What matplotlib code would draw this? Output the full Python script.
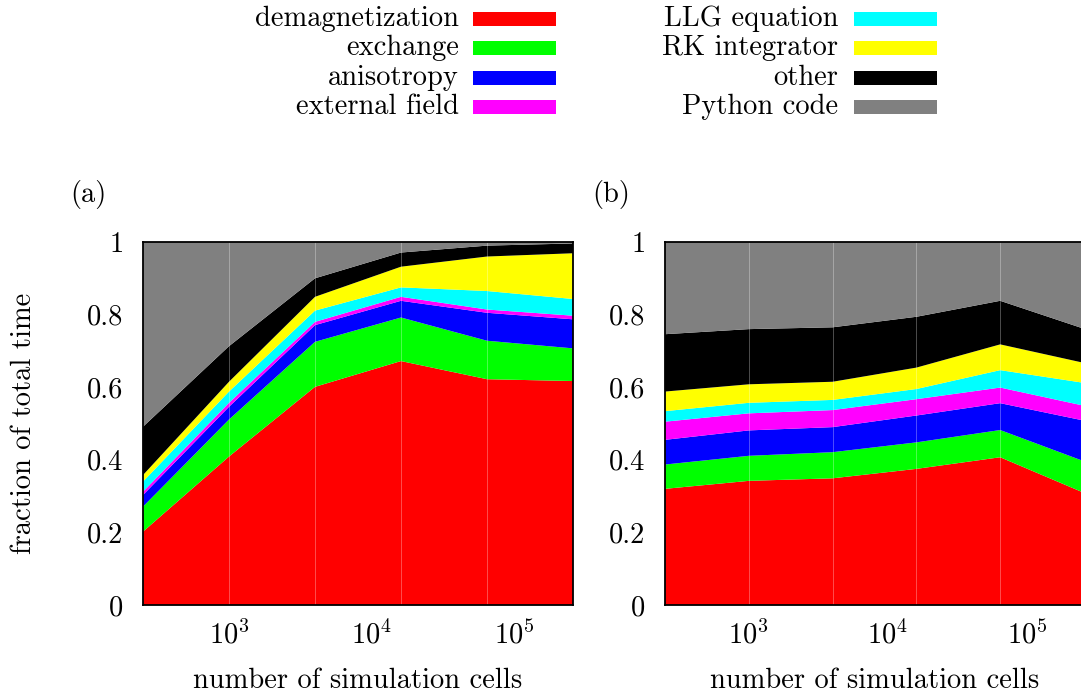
import numpy as np
import matplotlib
matplotlib.use("Agg")
import matplotlib.pyplot as plt
from matplotlib.patches import Rectangle

plt.rcParams["font.family"] = "serif"
plt.rcParams["font.serif"] = ["cmr10", "DejaVu Serif"]
plt.rcParams["mathtext.fontset"] = "cm"
plt.rcParams["axes.formatter.use_mathtext"] = True

FS = 20.5

# number of simulation cells (factor 4 steps)
cells = [250, 1000, 4000, 16000, 64000, 256000]

parts = ["demagnetization", "exchange", "anisotropy", "external field",
         "LLG equation", "RK integrator", "other", "Python code"]
colors = ["#ff0000", "#00ff00", "#0000ff", "#ff00ff",
          "#00ffff", "#ffff00", "#000000", "#808080"]

# fraction of total time per part, panel (a)
a_demag    = [0.202, 0.409, 0.601, 0.672, 0.622, 0.617]
a_exchange = [0.069, 0.102, 0.124, 0.120, 0.106, 0.090]
a_aniso    = [0.032, 0.035, 0.046, 0.046, 0.077, 0.080]
a_zeeman   = [0.009, 0.011, 0.009, 0.011, 0.009, 0.010]
a_llg      = [0.028, 0.031, 0.031, 0.026, 0.051, 0.046]
a_rk       = [0.018, 0.027, 0.038, 0.057, 0.095, 0.126]
a_other    = [0.133, 0.098, 0.051, 0.039, 0.030, 0.027]
a_python   = [0.509, 0.287, 0.100, 0.029, 0.010, 0.004]

# fraction of total time per part, panel (b)
b_demag    = [0.320, 0.342, 0.349, 0.375, 0.407, 0.309]
b_exchange = [0.067, 0.069, 0.072, 0.073, 0.075, 0.087]
b_aniso    = [0.068, 0.070, 0.069, 0.074, 0.074, 0.112]
b_zeeman   = [0.050, 0.047, 0.047, 0.045, 0.043, 0.041]
b_llg      = [0.029, 0.029, 0.028, 0.028, 0.048, 0.063]
b_rk       = [0.054, 0.051, 0.050, 0.059, 0.071, 0.055]
b_other    = [0.158, 0.152, 0.150, 0.140, 0.120, 0.094]
b_python   = [0.254, 0.240, 0.235, 0.206, 0.162, 0.239]

panel_a = [a_demag, a_exchange, a_aniso, a_zeeman, a_llg, a_rk, a_other, a_python]
panel_b = [b_demag, b_exchange, b_aniso, b_zeeman, b_llg, b_rk, b_other, b_python]

W, H = 1081, 693
fig = plt.figure(figsize=(W / 100, H / 100), dpi=100)

def fx(px):
    return px / W

def fy(py):
    return 1 - py / H

ax_a = fig.add_axes([fx(143), fy(605), fx(430), 363 / H])
ax_b = fig.add_axes([fx(665), fy(605), fx(419), 363 / H])

for ax, data, tag in [(ax_a, panel_a, "(a)"), (ax_b, panel_b, "(b)")]:
    ax.stackplot(cells, *data, colors=colors, linewidth=0)
    # faint seams between the polygon segments
    for c in cells[1:-1]:
        ax.axvline(c, color="white", lw=0.6, alpha=0.35, zorder=3)
    ax.set_xscale("log")
    ax.set_xlim(cells[0], cells[-1])
    ax.set_ylim(0, 1)
    ax.set_xticks([1e3, 1e4, 1e5])
    ax.minorticks_off()
    ax.set_yticks([0, 0.2, 0.4, 0.6, 0.8, 1.0])
    ax.set_yticklabels(["0", "0.2", "0.4", "0.6", "0.8", "1"])
    ax.tick_params(length=0, labelsize=FS, pad=14)
    ax.tick_params(axis="x", pad=11)
    for sp in ax.spines.values():
        sp.set_linewidth(1.3)
        sp.set_zorder(5)
    ax.set_xlabel("number of simulation cells", fontsize=FS, labelpad=13)
    ax.text(-0.128, 1.13, tag, transform=ax.transAxes, fontsize=FS,
            ha="center", va="center")

ax_a.set_ylabel("fraction of total time", fontsize=FS, labelpad=36)

# legend: right-aligned names with a colour swatch after each
rows = [19, 48, 78, 107]
for i, (name, col) in enumerate(zip(parts, colors)):
    column, row = divmod(i, 4)
    text_right = 459 if column == 0 else 838
    sw_left = 473 if column == 0 else 854
    y = rows[row]
    fig.text(fx(text_right), fy(y), name, fontsize=FS, ha="right", va="center")
    fig.patches.append(Rectangle((fx(sw_left), fy(y + 7)), fx(83), 14 / H,
                                 facecolor=col, edgecolor="none",
                                 transform=fig.transFigure, figure=fig))

fig.savefig("out.png", dpi=100)
